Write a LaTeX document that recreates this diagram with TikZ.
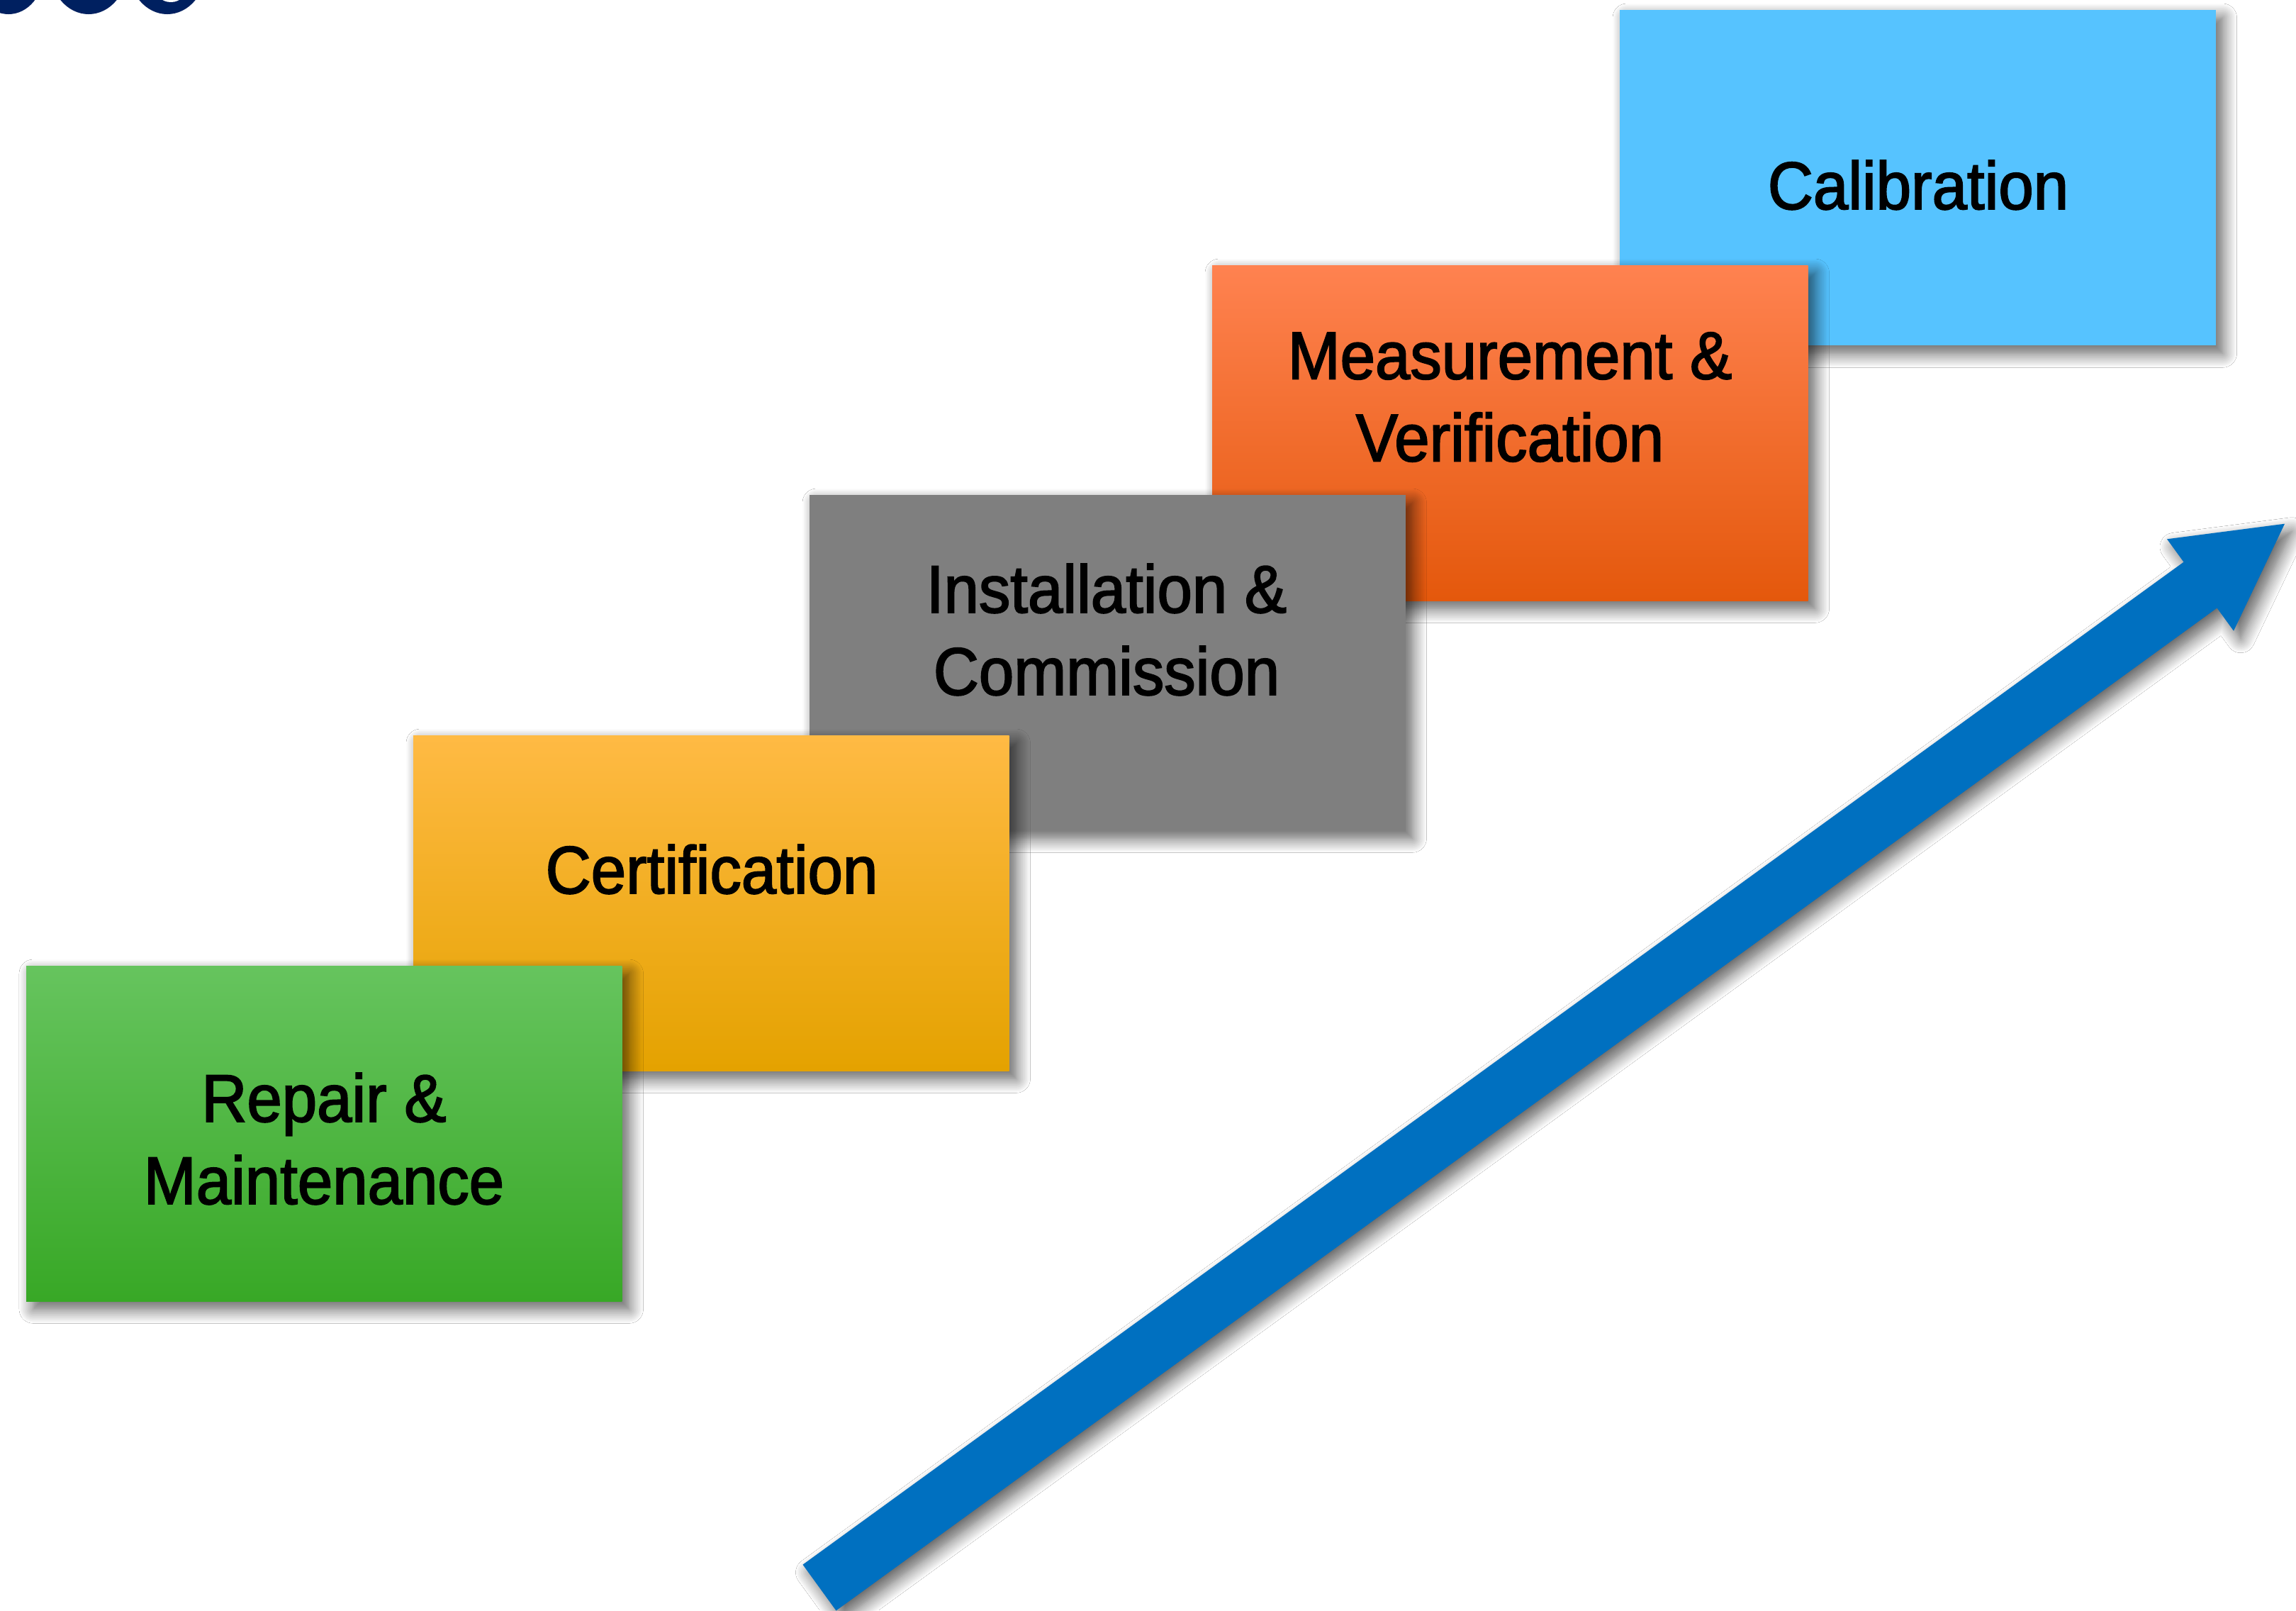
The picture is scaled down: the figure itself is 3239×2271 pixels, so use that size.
\documentclass[tikz,border=0pt]{standalone}
\usepackage{fontspec}
\setmainfont{Liberation Sans}[FakeStretch=0.935, FakeBold=2]
\usetikzlibrary{shadows.blur}
\definecolor{navy}{RGB}{0,32,96}
\definecolor{arrowblue}{RGB}{0,112,192}
\definecolor{calblue}{RGB}{86,195,255}
\definecolor{midgray}{RGB}{127,127,127}
\definecolor{orTop}{RGB}{255,130,80}
\definecolor{orMid}{RGB}{255,108,28}
\definecolor{orBot}{RGB}{228,88,12}
\definecolor{yeTop}{RGB}{255,186,68}
\definecolor{yeMid}{RGB}{255,180,0}
\definecolor{yeBot}{RGB}{228,162,0}
\definecolor{grTop}{RGB}{102,196,94}
\definecolor{grMid}{RGB}{74,190,52}
\definecolor{grBot}{RGB}{56,168,38}
\begin{document}
\begin{tikzpicture}[x=0.01cm,y=-0.01cm,
  softshadow/.style={blur shadow={shadow xshift=0.1cm, shadow yshift=-0.11cm, shadow blur radius=0.2cm, shadow blur steps=14, shadow opacity=65}},
  stepbox/.style={anchor=north west, minimum width=8.40cm, minimum height=4.73cm, inner sep=0pt, outer sep=0pt, draw=none, softshadow},
  steptext/.style={inner sep=0pt, align=center, font=\fontsize{27pt}{33pt}\selectfont, text=black}
]
\useasboundingbox[fill=white] (0,0) rectangle (3239,2271);

% partial title letters cut by the top edge
\begin{scope}
  \clip (0,0) rectangle (3239,2271);
  \fill[navy] (12,-40) ellipse [x radius=50, y radius=60];
  \fill[navy] (125,-45) ellipse [x radius=55, y radius=65];
  \fill[navy] (236,-45) ellipse [x radius=55, y radius=65];
  \fill[white] (241,-20) ellipse [x radius=24, y radius=23];
\end{scope}

% arrow
\coordinate (tailA) at (1132.5,2206.6);
\coordinate (tailB) at (1179.5,2271.4);
\coordinate (neckA) at (3080.5,792.6);
\coordinate (neckB) at (3127.5,857.4);
\coordinate (barbA) at (3057,760.3);
\coordinate (barbB) at (3151,889.7);
\coordinate (tip) at (3223,738.7);
\fill[arrowblue, softshadow] (tailA) -- (neckA) -- (barbA) -- (tip) -- (barbB) -- (neckB) -- (tailB) -- cycle;

% boxes (back to front)
\node[stepbox, fill=calblue] (cal) at (2285,14) {};
\node[stepbox, top color=orTop, middle color=orMid, bottom color=orBot] (meas) at (1710,374) {};
\node[stepbox, fill=midgray] (inst) at (1142,698) {};
\node[stepbox, top color=yeTop, middle color=yeMid, bottom color=yeBot] (cert) at (583,1037) {};
\node[stepbox, top color=grTop, middle color=grMid, bottom color=grBot] (rep) at (37,1362) {};

% texts
\node[steptext] (calT) at (2706,261) {Calibration};
\node[steptext] (measT) at (2130,560) {Measurement \&\\Verification};
\node[steptext] (instT) at (1561,888) {Installation \&\\Commission};
\node[steptext] (certT) at (1004,1226) {Certification};
\node[steptext] (repT) at (457,1606) {Repair \&\\Maintenance};
\end{tikzpicture}
\end{document}
